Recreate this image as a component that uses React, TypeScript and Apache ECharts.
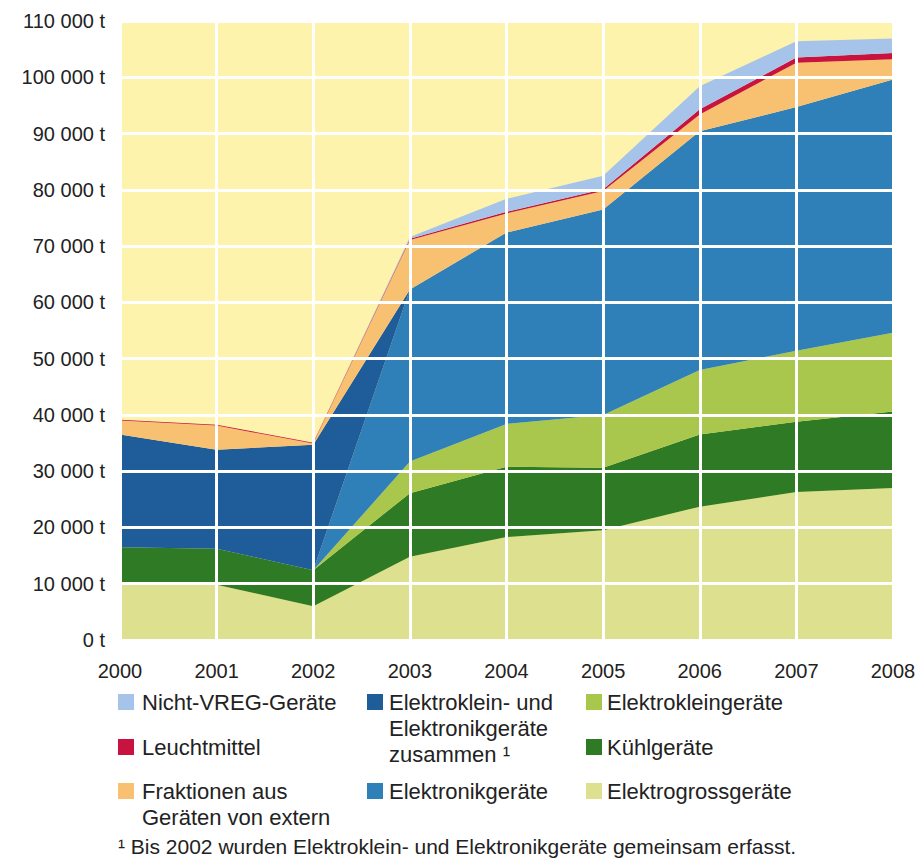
import React, { useEffect, useRef } from 'react';
import * as echarts from 'echarts';

const years = ['2000', '2001', '2002', '2003', '2004', '2005', '2006', '2007', '2008'];
const elektrogross = [10000, 9800, 6000, 14800, 18300, 19500, 23700, 26300, 27000];
const kuehl = [6500, 6400, 6400, 11300, 12500, 11100, 12800, 12500, 13600];
const elektroklein = [0, 0, 0, 5600, 7600, 9400, 11500, 12600, 14000];
const elektronik = [0, 0, 0, 30600, 34000, 36500, 42400, 43300, 45000];
const zusammen = [20000, 17600, 22300, 0, 0, 0, 0, 0, 0];
const fraktionen = [2500, 4300, 200, 8800, 3400, 3300, 3000, 7900, 3600];
const leuchtmittel = [150, 150, 150, 200, 300, 300, 900, 900, 1100];
const nichtVreg = [0, 0, 0, 300, 2300, 2400, 4100, 2900, 2600];

const FONT = '"Liberation Sans", Arial, Helvetica, sans-serif';
const C = {
  bg: '#fdf3ad',
  gross: '#dde18f',
  kuehl: '#2f7a24',
  klein: '#a9c74d',
  elektronik: '#2f7fb8',
  zusammen: '#1f5c9a',
  fraktionen: '#f8c172',
  leucht: '#c8123f',
  nicht: '#a6c4ea',
};

function mk(name: string, data: number[], color: string) {
  return {
    name,
    type: 'line',
    stack: 'total',
    data,
    symbol: 'none',
    showSymbol: false,
    silent: true,
    lineStyle: { width: 0, color },
    itemStyle: { color },
    areaStyle: { color, opacity: 1 },
  };
}

function fmtY(v: number) {
  if (v === 0) return '0 t';
  const k = Math.round(v / 1000);
  return `${k} 000 t`;
}

function legendItem(x: number, ySquareTop: number, color: string, tx: number, textTop: number, text: string) {
  return [
    { type: 'rect', shape: { x, y: ySquareTop, width: 16, height: 16 }, style: { fill: color } },
    {
      type: 'text',
      x: tx,
      y: textTop,
      style: {
        text,
        fill: '#222',
        font: `22px ${FONT}`,
        lineHeight: 26,
        verticalAlign: 'top',
        align: 'left',
      },
    },
  ];
}

export default function App() {
  const ref = useRef<HTMLDivElement>(null);
  useEffect(() => {
    document.body.style.margin = '0';
    const chart = echarts.init(ref.current!, null, { renderer: 'svg' });
    const option: any = {
      animation: false,
      grid: {
        left: 120,
        right: 29,
        top: 21,
        bottom: 226,
        show: true,
        backgroundColor: C.bg,
        borderWidth: 0,
      },
      xAxis: {
        type: 'category',
        data: years,
        boundaryGap: false,
        z: 10,
        axisLine: { show: false },
        axisTick: { show: false },
        axisLabel: { color: '#222', fontSize: 20, fontFamily: FONT, margin: 21, interval: 0 },
        splitLine: { show: true, interval: 0, lineStyle: { color: '#ffffff', width: 3 } },
      },
      yAxis: {
        type: 'value',
        min: 0,
        max: 110000,
        interval: 10000,
        z: 10,
        axisLine: { show: false },
        axisTick: { show: false },
        axisLabel: { color: '#222', fontSize: 20, fontFamily: FONT, margin: 15, formatter: fmtY },
        splitLine: { show: true, lineStyle: { color: '#ffffff', width: 3 } },
      },
      series: [
        mk('Elektrogrossgeräte', elektrogross, C.gross),
        mk('Kühlgeräte', kuehl, C.kuehl),
        mk('Elektrokleingeräte', elektroklein, C.klein),
        mk('Elektronikgeräte', elektronik, C.elektronik),
        mk('Elektroklein- und Elektronikgeräte zusammen', zusammen, C.zusammen),
        mk('Fraktionen aus Geräten von extern', fraktionen, C.fraktionen),
        mk('Leuchtmittel', leuchtmittel, C.leucht),
        mk('Nicht-VREG-Geräte', nichtVreg, C.nicht),
      ],
      graphic: [
        ...legendItem(118, 694, C.nicht, 142, 689, 'Nicht-VREG-Geräte'),
        ...legendItem(118, 739, C.leucht, 142, 734, 'Leuchtmittel'),
        ...legendItem(118, 783, C.fraktionen, 142, 778, 'Fraktionen aus\nGeräten von extern'),
        ...legendItem(367, 694, C.zusammen, 389, 689, 'Elektroklein- und\nElektronikgeräte\nzusammen ¹'),
        ...legendItem(367, 783, C.elektronik, 389, 778, 'Elektronikgeräte'),
        ...legendItem(586, 694, C.klein, 607, 689, 'Elektrokleingeräte'),
        ...legendItem(586, 739, C.kuehl, 607, 734, 'Kühlgeräte'),
        ...legendItem(586, 783, C.gross, 607, 778, 'Elektrogrossgeräte'),
        {
          type: 'text',
          x: 118,
          y: 836,
          style: {
            text: '¹ Bis 2002 wurden Elektroklein- und Elektronikgeräte gemeinsam erfasst.',
            fill: '#222',
            font: `21px ${FONT}`,
            verticalAlign: 'top',
            align: 'left',
          },
        },
      ],
    };
    chart.setOption(option);
    return () => chart.dispose();
  }, []);
  return <div ref={ref} style={{ width: 922, height: 866 }} />;
}
